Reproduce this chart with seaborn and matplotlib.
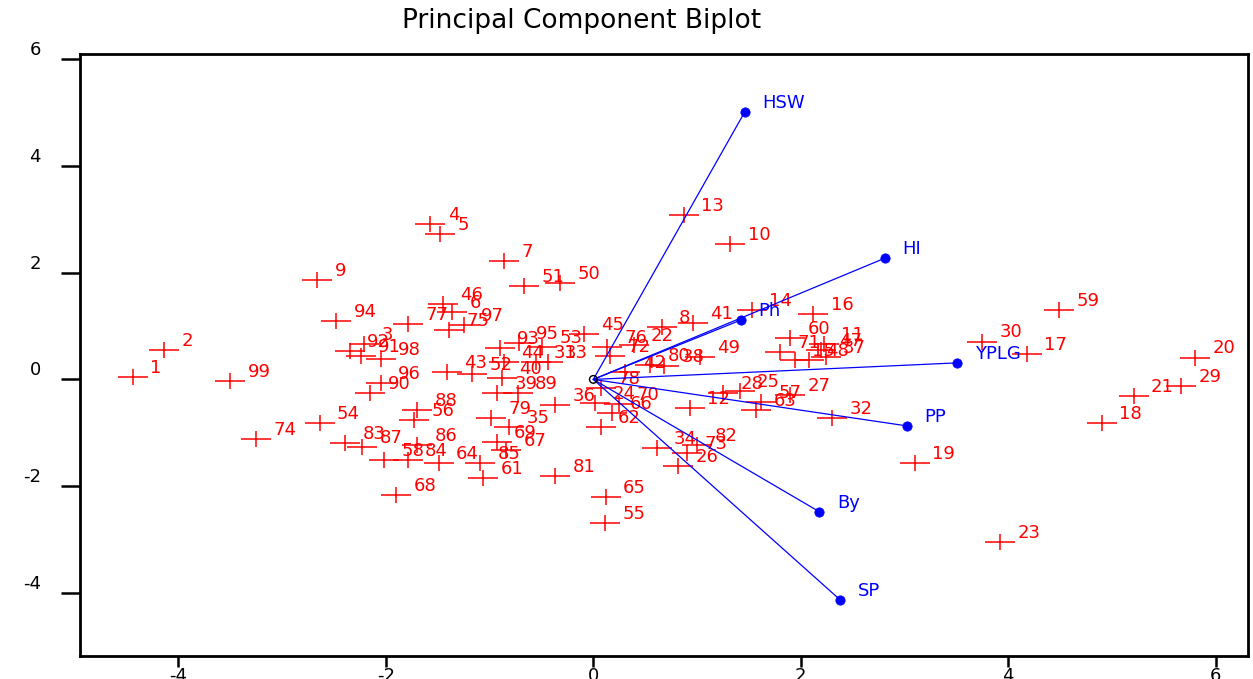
import numpy as np
import pandas as pd
import matplotlib
matplotlib.use('Agg')
import matplotlib.pyplot as plt
from matplotlib.path import Path
import seaborn as sns

pc1 = [-4.44, -4.14, -2.21, -1.57, -1.48, -1.36, -0.86, 0.66, -2.66, 1.32,
       2.22, 0.93, 0.87, 1.53, 1.94, 2.12, 4.18, 4.90, 3.10, 5.80,
       5.21, 0.39, 3.92, 0.02, 1.41, 0.82, 1.90, 1.25, 5.67, 3.75,
       -0.55, 2.30, -0.44, 0.61, -0.81, -0.37, 2.24, 0.68, -0.93, -0.88,
       0.96, 0.31, -1.41, -0.86, -0.09, -1.45, 2.20, 2.08, 1.03, -0.32,
       -0.67, -1.17, -0.49, -2.64, 0.11, -1.73, 1.62, -2.02, 4.49, 1.90,
       -1.06, 0.07, 1.57, -1.49, 0.12, 0.18, -0.84, -1.90, -0.93, 0.25,
       1.80, 0.16, 0.90, -3.25, -1.39, 0.13, -1.79, 0.07, -0.99, 0.55,
       -0.37, 1.00, -2.39, -1.79, -1.09, -1.70, -2.23, -1.70, -0.73, -2.15,
       -2.24, -2.35, -0.90, -2.48, -0.72, -2.05, -1.25, -2.05, -3.50]
pc2 = [0.04, 0.55, 0.67, 2.91, 2.72, 1.27, 2.22, 0.99, 1.86, 2.53,
       0.66, -0.54, 3.08, 1.30, 0.36, 1.22, 0.48, -0.81, -1.57, 0.41,
       -0.32, 0.64, -3.05, -0.45, -0.22, -1.63, -0.29, -0.26, -0.12, 0.71,
       0.33, -0.73, 0.33, -1.29, -0.89, -0.48, 0.42, 0.25, -0.26, 0.02,
       1.05, 0.14, 0.14, 0.33, 0.85, 1.41, 0.55, 0.36, 0.42, 1.80,
       1.75, 0.10, 0.61, -0.81, -2.69, -0.76, -0.43, -1.51, 1.30, 0.77,
       -1.85, -0.89, -0.58, -1.57, -2.20, -0.63, -1.32, -2.16, -1.17, -0.46,
       0.51, 0.44, -1.38, -1.12, 0.93, 0.61, 1.04, -0.16, -0.73, 0.27,
       -1.81, -1.23, -1.19, -1.51, -1.57, -1.23, -1.26, -0.57, -0.26, -0.26,
       0.43, 0.53, 0.58, 1.10, 0.68, -0.07, 1.02, 0.39, -0.03]
obs_id = [str(i) for i in range(1, 100)]

# variable loadings (arrow tips)
var_names = ['HSW', 'HI', 'Ph', 'YPLG', 'PP', 'By', 'SP']
var_pc1 = [1.46, 2.81, 1.42, 3.51, 3.02, 2.18, 2.38]
var_pc2 = [5.01, 2.27, 1.11, 0.31, -0.87, -2.48, -4.13]

scores = pd.DataFrame({'pc1': pc1, 'pc2': pc2, 'id': obs_id})
loads = pd.DataFrame({'pc1': var_pc1, 'pc2': var_pc2, 'name': var_names})

sns.set_style('ticks')
plt.rcParams['font.family'] = ['DejaVu Sans']
plt.rcParams['axes.unicode_minus'] = False
plt.rcParams['text.color'] = 'black'
plt.rcParams['xtick.color'] = 'black'
plt.rcParams['ytick.color'] = 'black'
plt.rcParams['axes.edgecolor'] = 'black'

fig = plt.figure(figsize=(12.53, 6.79), dpi=100)
ax = fig.add_axes([0.0638, 0.034, 0.932, 0.886])

# wide, flat plus sign like the original
plus = Path([(-1, 0), (1, 0), (0, -0.55), (0, 0.55)],
            [Path.MOVETO, Path.LINETO, Path.MOVETO, Path.LINETO])
sns.scatterplot(data=scores, x='pc1', y='pc2', marker=plus, s=437,
                color='red', edgecolor='red', linewidth=1.1, ax=ax, legend=False)
for lab, x, y in zip(scores['id'], scores['pc1'], scores['pc2']):
    ax.annotate(lab, (x, y), xytext=(12.5, 6.5), textcoords='offset points',
                color='red', fontsize=13, ha='left', va='center')

# loading vectors
for name, x, y in zip(loads['name'], loads['pc1'], loads['pc2']):
    ax.plot([0, x], [0, y], color='blue', lw=0.9, zorder=3)
    ax.annotate(name, (x, y), xytext=(12.5, 6.5), textcoords='offset points',
                color='blue', fontsize=13, ha='left', va='center')
sns.scatterplot(data=loads, x='pc1', y='pc2', color='blue', edgecolor='blue',
                s=45, ax=ax, legend=False, zorder=4)
ax.scatter([0], [0], s=30, facecolor='none', edgecolor='black', lw=1, zorder=5)

ax.set_xlim(-4.95, 6.31)
ax.set_ylim(-5.18, 6.09)
ax.set_xticks([-4, -2, 0, 2, 4, 6])
ax.set_yticks([-4, -2, 0, 2, 4, 6])
ax.set_yticklabels(['-4', '-2', '0', '2', '4', '6'], va='bottom')
ax.set_xlabel('')
ax.set_ylabel('')
ax.tick_params(axis='x', direction='out', length=8, width=1.8, pad=0, labelsize=13,
               colors='black')
ax.tick_params(axis='y', direction='out', length=14, width=1.8, pad=14, labelsize=13,
               colors='black')
for sp in ax.spines.values():
    sp.set_visible(True)
    sp.set_linewidth(2)
    sp.set_color('black')

fig.text(0.4645, 0.969, 'Principal Component Biplot', ha='center', va='center',
         fontsize=19, color='black')

fig.savefig('out.png', dpi=100)
